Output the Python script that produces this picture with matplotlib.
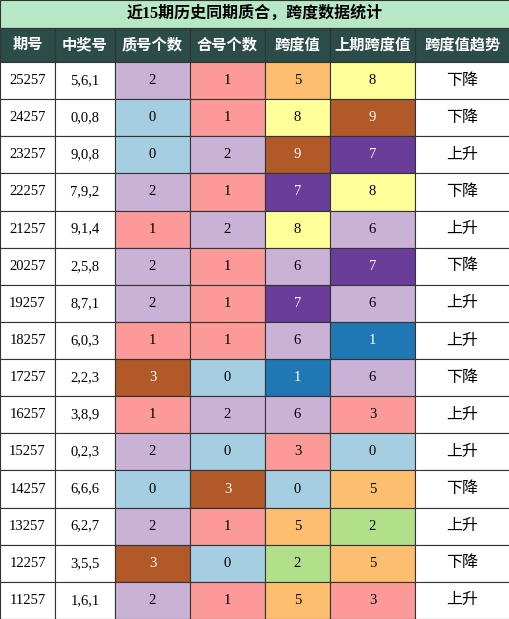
import matplotlib.pyplot as plt
from matplotlib.patches import Rectangle

plt.rcParams['font.family'] = ['Liberation Serif', 'Noto Sans CJK SC', 'DejaVu Sans']

title = "近15期历史同期质合，跨度数据统计"
headers = ["期号", "中奖号", "质号个数", "合号个数", "跨度值", "上期跨度值", "跨度值趋势"]
periods = ["25257", "24257", "23257", "22257", "21257", "20257", "19257", "18257",
           "17257", "16257", "15257", "14257", "13257", "12257", "11257"]
numbers = ["5,6,1", "0,0,8", "9,0,8", "7,9,2", "9,1,4", "2,5,8", "8,7,1", "6,0,3",
           "2,2,3", "3,8,9", "0,2,3", "6,6,6", "6,2,7", "3,5,5", "1,6,1"]
prime_cnt = [2, 0, 0, 2, 1, 2, 2, 1, 3, 1, 2, 0, 2, 3, 2]
comp_cnt = [1, 1, 2, 1, 2, 1, 1, 1, 0, 2, 0, 3, 1, 0, 1]
span = [5, 8, 9, 7, 8, 6, 7, 6, 1, 6, 3, 0, 5, 2, 5]
prev_span = [8, 9, 7, 8, 6, 7, 6, 1, 6, 3, 0, 5, 2, 5, 3]
trend = ["下降", "下降", "上升", "下降", "上升", "下降", "上升", "上升",
         "下降", "上升", "上升", "下降", "上升", "下降", "上升"]

cnt_colors = {0: "#a6cee3", 1: "#fb9a99", 2: "#cab2d6", 3: "#b15928"}
span_colors = {0: "#a6cee3", 1: "#1f78b4", 2: "#b2df8a", 3: "#fb9a99", 5: "#fdbf6f",
               6: "#cab2d6", 7: "#6a3d9a", 8: "#ffff99", 9: "#b15928"}
dark = {"#b15928", "#6a3d9a", "#1f78b4"}

W, H = 510, 619
col_x = [0, 55, 115, 190, 265, 330, 415, 510]
title_h, head_h = 28, 34
row_h = (H - title_h - head_h) / len(periods)

fig = plt.figure(figsize=(W / 100, H / 100), dpi=100)
ax = fig.add_axes([0, 0, 1, 1])
ax.set_xlim(0, W)
ax.set_ylim(H, 0)
ax.axis('off')

def cell(x0, x1, y0, h, fc, txt, tc="black", size=11, weight="normal"):
    ax.add_patch(Rectangle((x0, y0), x1 - x0, h, facecolor=fc, edgecolor="#333333", lw=0.8))
    ax.text((x0 + x1) / 2, y0 + h / 2, txt, ha="center", va="center", color=tc,
            fontsize=size, fontweight=weight)

cell(0, W, 0, title_h, "#b7e8c6", title, size=11.5, weight="bold")
for j, hd in enumerate(headers):
    cell(col_x[j], col_x[j + 1], title_h, head_h, "#2b4c48", hd, tc="white", size=11, weight="bold")

for i in range(len(periods)):
    y = title_h + head_h + i * row_h
    vals = [periods[i], numbers[i], prime_cnt[i], comp_cnt[i], span[i], prev_span[i], trend[i]]
    fcs = ["white", "white", cnt_colors[prime_cnt[i]], cnt_colors[comp_cnt[i]],
           span_colors[span[i]], span_colors[prev_span[i]], "white"]
    for j in range(7):
        tc = "white" if fcs[j] in dark else "black"
        cell(col_x[j], col_x[j + 1], y, row_h, fcs[j], str(vals[j]), tc=tc,
             size=11.5 if j == 6 else 10.5)

fig.savefig("out.png", dpi=100)
